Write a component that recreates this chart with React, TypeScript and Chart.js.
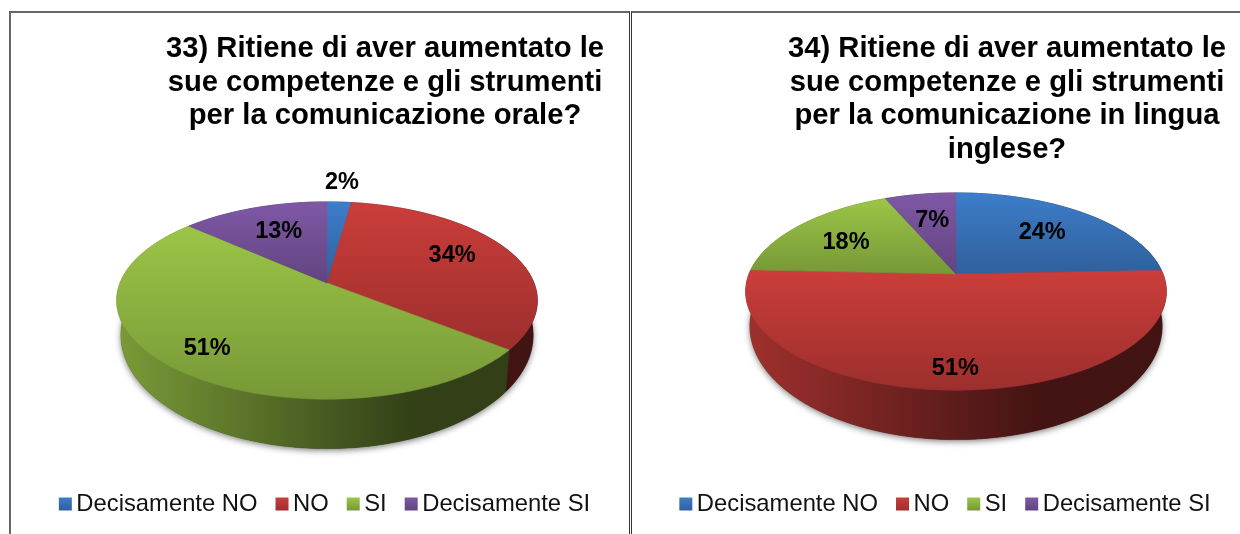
import React, { useEffect, useRef } from "react";
import { Chart, registerables } from "chart.js";

Chart.register(...registerables);

const categories = ["Decisamente NO", "NO", "SI", "Decisamente SI"];
const titleLeft = ["33) Ritiene di aver aumentato le", "sue competenze e gli strumenti", "per la comunicazione orale?"];
const titleRight = ["34) Ritiene di aver aumentato le", "sue competenze e gli strumenti", "per la comunicazione in lingua", "inglese?"];
const valuesLeft = [2.2, 33.5, 50.9, 13.4];
const valuesRight = [24.4, 51.3, 17.8, 6.5];
const seriesColors = ["#3d7dca", "#cb3d3a", "#9bc547", "#7f58a6"];

const FONT = '"Liberation Sans", Arial, sans-serif';
const TILT = 0.4615;
const PERSP = 0.1777;
const DEPTH = 32;
const BASE_SCALE_X = 0.98;
const BASE_SCALE_Y = 1.15;

function shade(hex: string, f: number) {
  const n = parseInt(hex.slice(1), 16);
  const r = Math.round(((n >> 16) & 255) * f);
  const g = Math.round(((n >> 8) & 255) * f);
  const b = Math.round((n & 255) * f);
  return `rgb(${r},${g},${b})`;
}

function project(arc: any, frac: number, angle: number, base = false) {
  const u = Math.cos(angle);
  const v = Math.sin(angle);
  const den = 1 - PERSP * frac * v;
  const R = arc.outerRadius;
  const X = (R * frac * u) / den;
  const Y = (R * TILT * frac * v) / den;
  if (base) return { x: arc.x + X * BASE_SCALE_X, y: arc.y + DEPTH + Y * BASE_SCALE_Y };
  return { x: arc.x + X, y: arc.y + Y };
}

function rim(arc: any, base = false) {
  const pts: { x: number; y: number }[] = [];
  const step = Math.PI / 180;
  for (let a = arc.startAngle; a < arc.endAngle; a += step) pts.push(project(arc, 1, a, base));
  pts.push(project(arc, 1, arc.endAngle, base));
  return pts;
}

const pie3d = {
  id: "pie3d",
  afterLayout(chart: any, _a: any, opts: any) {
    const block = chart.titleBlock;
    if (block) {
      const right = block.right;
      block.left = 2 * opts.titleCenter - right;
    }
  },
  beforeDatasetsDraw(chart: any, _a: any, opts: any) {
    const ctx = chart.ctx;
    const arcs = chart.getDatasetMeta(0).data;
    const colors = chart.data.datasets[0].backgroundColor;
    const values = chart.data.datasets[0].data;
    const first = arcs[0];
    const R = first.outerRadius;

    // soft shadow below the disc
    ctx.save();
    ctx.shadowColor = "rgba(0,0,0,0.5)";
    ctx.shadowBlur = 6;
    ctx.shadowOffsetY = 2;
    ctx.fillStyle = "#333";
    ctx.beginPath();
    for (let i = 0; i <= 360; i++) {
      const p = project(first, 1, (i * Math.PI) / 180, true);
      if (i === 0) ctx.moveTo(p.x, p.y);
      else ctx.lineTo(p.x, p.y);
    }
    ctx.closePath();
    ctx.fill();
    ctx.restore();

    // side walls
    arcs.forEach((arc: any, i: number) => {
      const g = ctx.createLinearGradient(arc.x - R, 0, arc.x + R, 0);
      g.addColorStop(0, shade(colors[i], 0.78));
      g.addColorStop(0.43, shade(colors[i], 0.5));
      g.addColorStop(0.7, shade(colors[i], 0.33));
      g.addColorStop(1, shade(colors[i], 0.32));
      const top = rim(arc);
      const bottom = rim(arc, true).reverse();
      ctx.beginPath();
      [...top, ...bottom].forEach((p, j) => (j === 0 ? ctx.moveTo(p.x, p.y) : ctx.lineTo(p.x, p.y)));
      ctx.closePath();
      ctx.fillStyle = g;
      ctx.strokeStyle = g;
      ctx.lineWidth = 0.6;
      ctx.fill();
      ctx.stroke();
    });

    // top faces
    arcs.forEach((arc: any, i: number) => {
      const pts = rim(arc);
      const ys = [arc.y, ...pts.map((p) => p.y)];
      const g = ctx.createLinearGradient(0, Math.min(...ys), 0, Math.max(...ys));
      g.addColorStop(0, colors[i]);
      g.addColorStop(1, shade(colors[i], 0.77));
      ctx.beginPath();
      ctx.moveTo(arc.x, arc.y);
      pts.forEach((p) => ctx.lineTo(p.x, p.y));
      ctx.closePath();
      ctx.fillStyle = g;
      ctx.strokeStyle = g;
      ctx.lineWidth = 0.6;
      ctx.fill();
      ctx.stroke();
    });

    // value labels
    ctx.fillStyle = "#000";
    ctx.font = `bold 23.5px ${FONT}`;
    ctx.textAlign = "center";
    ctx.textBaseline = "middle";
    arcs.forEach((arc: any, i: number) => {
      const mid = (arc.startAngle + arc.endAngle) / 2;
      const p = project(arc, opts.labelFractions[i], mid);
      ctx.fillText(`${Math.round(values[i])}%`, p.x, p.y + opts.labelDy[i]);
    });
    return false;
  },
  afterDraw(chart: any, _a: any, opts: any) {
    const ctx = chart.ctx;
    const colors = chart.data.datasets[0].backgroundColor;
    const labels: string[] = chart.data.labels;
    const box = 13;
    const gap = 4.5;
    const sep = 18;
    ctx.save();
    ctx.font = `23.8px ${FONT}`;
    ctx.textAlign = "left";
    ctx.textBaseline = "middle";
    const widths = labels.map((l) => ctx.measureText(l).width);
    const total = widths.reduce((s, w) => s + w + box + gap, 0) + sep * (labels.length - 1);
    let x = opts.legendCenter - total / 2;
    const y = opts.legendY;
    labels.forEach((l, i) => {
      const g = ctx.createLinearGradient(0, y - box / 2, 0, y + box / 2);
      g.addColorStop(0, colors[i]);
      g.addColorStop(1, shade(colors[i], 0.77));
      ctx.fillStyle = g;
      ctx.fillRect(x, y - box / 2, box, box);
      ctx.fillStyle = "#111";
      ctx.fillText(l, x + box + gap, y + 0.5);
      x += box + gap + widths[i] + sep;
    });
    ctx.restore();
  },
};

type PanelProps = {
  left: number;
  width: number;
  title: string[];
  values: number[];
  padding: { left: number; right: number; top: number; bottom: number };
  titleCenter: number;
  legendCenter: number;
  labelFractions: number[];
  labelDy: number[];
};

function Panel({ left, width, title, values, padding, titleCenter, legendCenter, labelFractions, labelDy }: PanelProps) {
  const ref = useRef<HTMLCanvasElement | null>(null);
  useEffect(() => {
    if (!ref.current) return;
    const chart = new Chart(ref.current, {
      type: "pie",
      data: {
        labels: categories,
        datasets: [{ data: values, backgroundColor: seriesColors, borderWidth: 0 }],
      },
      options: {
        responsive: false,
        animation: false,
        radius: 207,
        layout: { padding },
        plugins: {
          legend: { display: false },
          tooltip: { enabled: false },
          title: {
            display: true,
            text: title,
            color: "#000",
            font: { family: FONT, weight: "bold", size: 29.2, lineHeight: 33.5 / 29.2 },
            padding: { top: 32.5, bottom: 0 },
          },
          pie3d: { titleCenter, legendCenter, legendY: 504, labelFractions, labelDy },
        },
      } as any,
      plugins: [pie3d as any],
    });
    return () => chart.destroy();
  }, []);
  return (
    <canvas
      ref={ref}
      width={width}
      height={534}
      style={{ position: "absolute", left, top: 0, width, height: 534, display: "block" }}
    />
  );
}

export default function App() {
  const line = "#666";
  return (
    <div style={{ position: "absolute", left: 0, top: 0, width: 1240, height: 534, overflow: "hidden", background: "#fff" }}>
      <div style={{ position: "absolute", left: 9, top: 11, width: 621, height: 540, borderLeft: `2px solid ${line}`, borderTop: `2px solid ${line}`, borderRight: "1px solid #333", boxSizing: "border-box" }} />
      <div style={{ position: "absolute", left: 631, top: 11, width: 620, height: 540, borderLeft: "1px solid #333", borderTop: `2px solid ${line}`, boxSizing: "border-box" }} />
      <Panel
        left={0}
        width={631}
        title={titleLeft}
        values={valuesLeft}
        padding={{ left: 23, right: 0, top: 0, bottom: 101 }}
        titleCenter={385}
        legendCenter={324.5}
        labelFractions={[1.29, 0.68, 0.8, 0.63]}
        labelDy={[0, -4, 0, -2]}
      />
      <Panel
        left={631}
        width={609}
        title={titleRight}
        values={valuesRight}
        padding={{ left: 41, right: 0, top: 0, bottom: 152.5 }}
        titleCenter={376}
        legendCenter={314}
        labelFractions={[0.65, 0.84, 0.69, 0.63]}
        labelDy={[0, 0, 3, 0]}
      />
    </div>
  );
}
